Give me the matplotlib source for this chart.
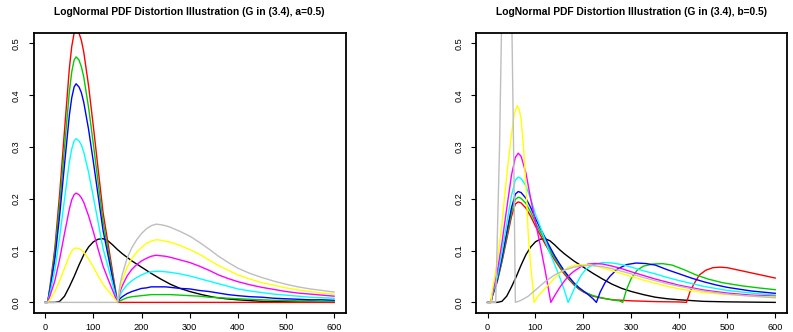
import matplotlib
matplotlib.use('Agg')
import matplotlib.pyplot as plt

plt.rcParams['font.family'] = ['Liberation Sans', 'DejaVu Sans']

# ---- left panel (a=0.5): all coloured curves share one x grid
a_x = [0, 5, 10, 20, 30, 40, 50, 55, 60, 64, 70, 75, 80, 90, 100, 110, 120, 130, 140, 150, 155, 160,
       170, 180, 190, 200, 210, 220, 230, 240, 250, 260, 280, 300, 320, 340, 360, 380, 400, 425, 450, 475,
       500, 525, 550, 575, 600]
a_red = [0, 0, 0.032, 0.105, 0.211, 0.332, 0.451, 0.494, 0.52, 0.527, 0.52, 0.506, 0.483, 0.418, 0.339, 0.256, 0.174,
         0.116, 0.058, 0,
         0, 0, 0, 0, 0, 0, 0, 0, 0, 0, 0, 0, 0, 0, 0, 0, 0, 0, 0, 0, 0, 0, 0, 0, 0, 0, 0]
a_green = [0, 0, 0.029, 0.095, 0.19, 0.299, 0.406, 0.445, 0.468, 0.474, 0.468, 0.455, 0.435, 0.376, 0.305, 0.23, 0.157,
           0.104, 0.052, 0,
           0.003, 0.005, 0.009, 0.011, 0.012, 0.013, 0.014, 0.015, 0.015, 0.015, 0.015, 0.015,
           0.014, 0.013, 0.012, 0.01, 0.009, 0.008, 0.007, 0.006, 0.005, 0.004, 0.004, 0.003, 0.003, 0.002, 0.002]
a_blue = [0, 0, 0.026, 0.084, 0.169, 0.266, 0.361, 0.395, 0.416, 0.422, 0.416, 0.405, 0.386, 0.334, 0.271, 0.205, 0.139,
          0.093, 0.046, 0,
          0.007, 0.011, 0.017, 0.021, 0.024, 0.027, 0.028, 0.03, 0.03, 0.03, 0.03, 0.029,
          0.027, 0.026, 0.023, 0.021, 0.018, 0.015, 0.013, 0.011, 0.01, 0.008, 0.007, 0.006, 0.005, 0.005, 0.004]
a_cyan = [0, 0, 0.019, 0.063, 0.127, 0.199, 0.271, 0.296, 0.312, 0.316, 0.312, 0.304, 0.29, 0.251, 0.203, 0.154, 0.104,
          0.07, 0.035, 0,
          0.013, 0.022, 0.034, 0.042, 0.048, 0.053, 0.057, 0.059, 0.06, 0.06, 0.059, 0.058,
          0.055, 0.051, 0.046, 0.041, 0.036, 0.031, 0.026, 0.022, 0.019, 0.016, 0.014, 0.012, 0.01, 0.009, 0.008]
a_magenta = [0, 0, 0.013, 0.042, 0.084, 0.133, 0.18, 0.198, 0.208, 0.211, 0.208, 0.202, 0.193, 0.167, 0.136, 0.102,
             0.07, 0.046, 0.023, 0,
             0.02, 0.032, 0.051, 0.064, 0.073, 0.08, 0.085, 0.089, 0.091, 0.09, 0.089, 0.087,
             0.082, 0.077, 0.07, 0.062, 0.053, 0.046, 0.04, 0.034, 0.029, 0.025, 0.021, 0.018, 0.016, 0.014, 0.012]
a_yellow = [0, 0, 0.006, 0.021, 0.042, 0.066, 0.09, 0.099, 0.104, 0.105, 0.104, 0.101, 0.097, 0.084, 0.068, 0.051,
            0.035, 0.023, 0.012, 0,
            0.026, 0.043, 0.068, 0.085, 0.097, 0.106, 0.114, 0.118, 0.121, 0.12, 0.118, 0.116,
            0.11, 0.102, 0.093, 0.082, 0.071, 0.062, 0.053, 0.045, 0.038, 0.033, 0.028, 0.024, 0.021, 0.018, 0.016]
a_gray = [0, 0, 0, 0, 0, 0, 0, 0, 0, 0, 0, 0, 0, 0, 0, 0, 0, 0, 0, 0,
          0.033, 0.054, 0.085, 0.106, 0.121, 0.133, 0.142, 0.148, 0.151, 0.15, 0.148, 0.145,
          0.137, 0.128, 0.116, 0.103, 0.089, 0.077, 0.066, 0.056, 0.048, 0.041, 0.035, 0.03, 0.026, 0.023, 0.02]

# original lognormal pdf (black), same in both panels
black_x = [0, 20, 30, 40, 50, 60, 70, 80, 90, 100, 110, 120, 130, 140, 150, 160, 170, 180, 190, 200,
           220, 240, 260, 280, 300, 325, 350, 375, 400, 450, 500, 550, 600]
black_y = [0, 0, 0.002, 0.012, 0.03, 0.05, 0.072, 0.092, 0.107, 0.117, 0.122, 0.123, 0.119, 0.111, 0.102, 0.094, 0.087,
           0.08, 0.074, 0.068, 0.056, 0.045, 0.035, 0.027, 0.021, 0.015, 0.01, 0.007, 0.005, 0.002, 0.001, 0.0005, 0]

# ---- right panel (b=0.5): each curve has its own kink, so its own x list
b_red_x = [0, 7, 10, 20, 30, 40, 50, 58, 64, 70, 80, 90, 100, 110, 120, 130, 140, 150, 160, 170,
           180, 190, 200, 220, 240, 260, 300, 350, 400, 415, 422, 430, 442, 455, 470, 485, 500, 520, 540, 560, 580, 600]
b_red_y = [0, 0, 0.012, 0.039, 0.078, 0.122, 0.166, 0.19, 0.194, 0.192, 0.182, 0.166, 0.147, 0.13, 0.113, 0.097, 0.082,
           0.068, 0.055, 0.044, 0.034, 0.026, 0.02, 0.012, 0.008, 0.005, 0.003, 0.0015, 0.0008, 0,
           0.02, 0.035, 0.053, 0.062, 0.067, 0.068, 0.067, 0.063, 0.059, 0.055, 0.051, 0.047]
b_green_x = [0, 7, 10, 20, 30, 40, 50, 58, 64, 70, 80, 90, 100, 110, 120, 130, 140, 150, 160, 170,
             180, 190, 200, 220, 240, 260, 275, 282, 290, 300, 312, 325, 345, 365, 385, 410, 435, 460, 490, 530, 565, 600]
b_green_y = [0, 0, 0.012, 0.041, 0.081, 0.128, 0.174, 0.199, 0.203, 0.201, 0.191, 0.174, 0.154, 0.136, 0.119, 0.102,
             0.086, 0.071, 0.058, 0.046, 0.036, 0.027, 0.021, 0.013, 0.0085, 0.005, 0.003, 0,
             0.025, 0.047, 0.062, 0.07, 0.074, 0.0748, 0.072, 0.063, 0.053, 0.045, 0.038, 0.032, 0.028, 0.0245]
b_blue_x = [0, 7, 10, 20, 30, 40, 50, 58, 64, 70, 80, 90, 100, 110, 120, 130, 140, 150, 160, 170,
            180, 190, 200, 210, 220, 227, 235, 245, 255, 270, 290, 310, 330, 350, 375, 400, 425, 450, 475, 500, 550, 600]
b_blue_y = [0, 0, 0.013, 0.043, 0.086, 0.135, 0.183, 0.209, 0.214, 0.212, 0.201, 0.183, 0.162, 0.143, 0.125, 0.107,
            0.09, 0.075, 0.061, 0.049, 0.038, 0.029, 0.022, 0.015, 0.007, 0,
            0.02, 0.038, 0.05, 0.064, 0.073, 0.076, 0.075, 0.072, 0.063, 0.055, 0.047, 0.04, 0.034, 0.029, 0.022, 0.0175]
b_cyan_x = [0, 7, 10, 20, 30, 40, 50, 58, 64, 70, 80, 90, 100, 110, 120, 130, 140, 150, 160, 168,
            175, 185, 195, 205, 220, 240, 260, 280, 300, 325, 350, 375, 400, 450, 500, 550, 600]
b_cyan_y = [0, 0, 0.015, 0.048, 0.097, 0.152, 0.207, 0.236, 0.242, 0.239, 0.225, 0.2, 0.17, 0.146, 0.12, 0.095,
            0.073, 0.05, 0.024, 0,
            0.014, 0.035, 0.052, 0.064, 0.073, 0.077, 0.076, 0.073, 0.068, 0.061, 0.055, 0.048, 0.042, 0.031, 0.023,
            0.018, 0.014]
b_magenta_x = [0, 7, 10, 20, 30, 40, 50, 58, 64, 70, 80, 90, 100, 110, 120, 127, 132, 140, 150, 160,
               170, 180, 195, 210, 225, 240, 260, 280, 300, 325, 350, 375, 400, 450, 500, 550, 600]
b_magenta_y = [0, 0, 0.017, 0.058, 0.115, 0.181, 0.246, 0.28, 0.288, 0.282, 0.25, 0.2, 0.155, 0.11, 0.062, 0.026, 0,
               0.013, 0.028, 0.041, 0.052, 0.06, 0.069, 0.074, 0.075, 0.074, 0.07, 0.065, 0.059, 0.052,
               0.045, 0.039, 0.033, 0.024, 0.018, 0.014, 0.012]
b_yellow_x = [0, 7, 10, 20, 30, 40, 50, 56, 62, 66, 70, 75, 80, 85, 90, 94, 97, 105, 115, 125,
              140, 155, 170, 185, 200, 215, 230, 250, 275, 300, 325, 350, 375, 400, 450, 500, 550, 600]
b_yellow_y = [0, 0, 0.023, 0.076, 0.152, 0.245, 0.325, 0.365, 0.38, 0.372, 0.355, 0.3, 0.225, 0.13, 0.07, 0.035, 0,
              0.012, 0.022, 0.032, 0.047, 0.06, 0.068, 0.072, 0.073, 0.072, 0.069, 0.064, 0.057, 0.05,
              0.043, 0.037, 0.031, 0.026, 0.019, 0.015, 0.012, 0.0105]
b_gray_x = [0, 10, 17, 25, 29, 35, 40, 45, 51, 55, 58, 70, 85, 100, 120, 140, 160, 180, 200, 220,
            240, 260, 280, 300, 325, 350, 375, 400, 450, 500, 550, 600]
b_gray_y = [0, 0, 0, 0.3, 0.52, 0.8, 0.9, 0.8, 0.52, 0.25, 0, 0.004, 0.012, 0.024, 0.04, 0.053, 0.062, 0.068, 0.071,
            0.071, 0.069, 0.065, 0.06, 0.055, 0.048, 0.042, 0.036, 0.031, 0.022, 0.016, 0.012, 0.009]

xticks = [0, 100, 200, 300, 400, 500, 600]
yticks = [0.0, 0.1, 0.2, 0.3, 0.4, 0.5]

# R default palette order: black, red, green3, blue, cyan, magenta, yellow, gray
cols = {'black': '#000000', 'red': '#FF0000', 'green': '#00CD00', 'blue': '#0000FF',
        'cyan': '#00FFFF', 'magenta': '#FF00FF', 'yellow': '#FFFF00', 'gray': '#BEBEBE'}


def setup(ax, title):
    ax.set_xlim(-24, 624)
    ax.set_ylim(-0.02, 0.52)
    ax.set_xticks(xticks)
    ax.set_xticklabels([str(v) for v in xticks], fontsize=6.6)
    ax.set_yticks(yticks)
    ax.set_yticklabels(['%.1f' % v for v in yticks], fontsize=6.6, rotation=90, va='center')
    ax.tick_params(axis='both', direction='out', length=3.6, width=0.8, color='black')
    ax.tick_params(axis='x', pad=3.5)
    ax.tick_params(axis='y', pad=5.5)
    for s in ax.spines.values():
        s.set_linewidth(1.3)
    ax.text(0.5, 1.076, title, transform=ax.transAxes, ha='center', va='center',
            fontsize=7.4, fontweight='bold')


fig = plt.figure(figsize=(7.93, 3.32), dpi=100)
ax1 = fig.add_axes([0.0425, 0.058, 0.3934, 0.8425])
ax2 = fig.add_axes([0.6003, 0.058, 0.3918, 0.8425])

lw = 1.0
ax1.plot(black_x, black_y, color=cols['black'], lw=lw)
ax1.plot(a_x, a_red, color=cols['red'], lw=lw)
ax1.plot(a_x, a_green, color=cols['green'], lw=lw)
ax1.plot(a_x, a_blue, color=cols['blue'], lw=lw)
ax1.plot(a_x, a_cyan, color=cols['cyan'], lw=lw)
ax1.plot(a_x, a_magenta, color=cols['magenta'], lw=lw)
ax1.plot(a_x, a_yellow, color=cols['yellow'], lw=lw)
ax1.plot(a_x, a_gray, color=cols['gray'], lw=lw)
setup(ax1, 'LogNormal PDF Distortion Illustration (G in (3.4), a=0.5)')

ax2.plot(black_x, black_y, color=cols['black'], lw=lw)
ax2.plot(b_red_x, b_red_y, color=cols['red'], lw=lw)
ax2.plot(b_green_x, b_green_y, color=cols['green'], lw=lw)
ax2.plot(b_blue_x, b_blue_y, color=cols['blue'], lw=lw)
ax2.plot(b_cyan_x, b_cyan_y, color=cols['cyan'], lw=lw)
ax2.plot(b_magenta_x, b_magenta_y, color=cols['magenta'], lw=lw)
ax2.plot(b_yellow_x, b_yellow_y, color=cols['yellow'], lw=lw)
ax2.plot(b_gray_x, b_gray_y, color=cols['gray'], lw=lw)
setup(ax2, 'LogNormal PDF Distortion Illustration (G in (3.4), b=0.5)')

fig.savefig('out.png', dpi=100)
